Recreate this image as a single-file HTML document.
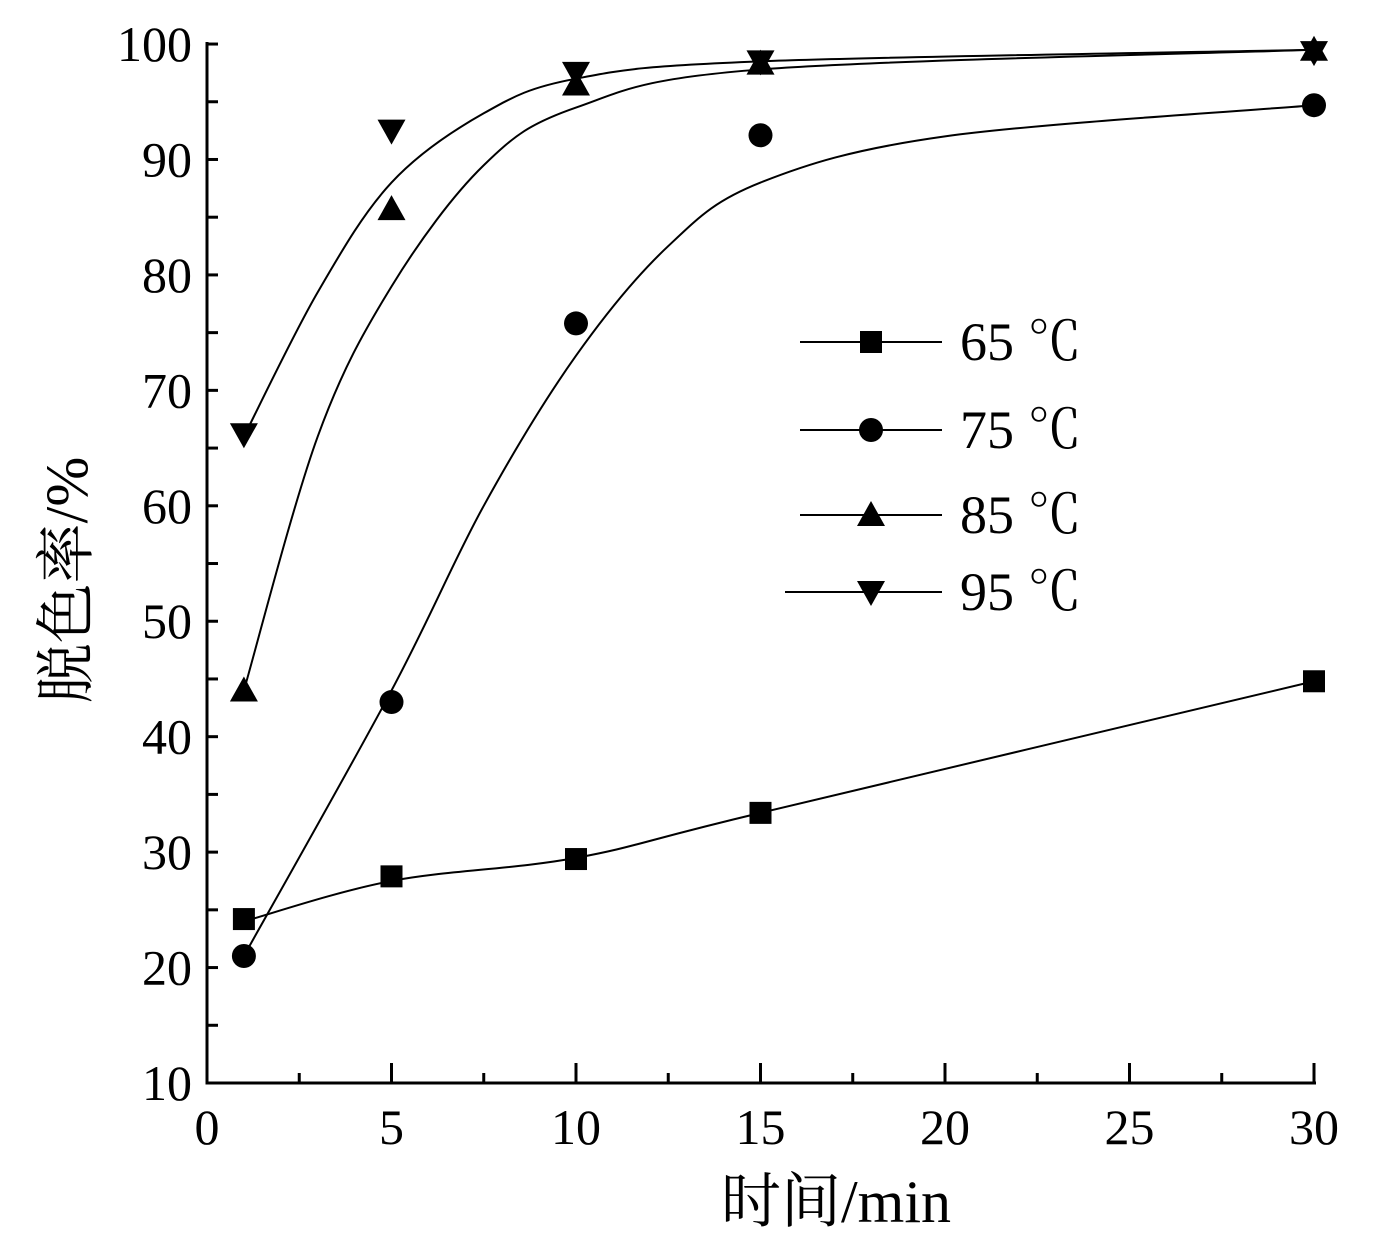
<!DOCTYPE html>
<html><head><meta charset="utf-8"><style>
body{margin:0;background:#fff}
text{font-family:"Liberation Serif","Noto Serif CJK SC",serif;fill:#000}
</style></head><body>
<svg id="s" width="1384" height="1248" xmlns="http://www.w3.org/2000/svg">
<g stroke="#000" stroke-width="3" fill="none">
<line x1="207" y1="42" x2="207" y2="1084.5"/>
<line x1="205.5" y1="1083" x2="1316" y2="1083"/>
</g>
<g id="ticks" stroke="#000" stroke-width="3"></g>
<g id="labels" font-size="50"></g>
<g id="curves" stroke="#000" stroke-width="2" fill="none"></g>
<g id="marks" fill="#000"></g>
<g id="legend"></g>
<text x="836" y="1222" font-size="60" text-anchor="middle">时间/min</text>
<text transform="translate(87,580) rotate(-90)" font-size="60" text-anchor="middle">脱色率/%</text>
</svg>
<script>
const NS="http://www.w3.org/2000/svg";
const X=v=>207+v*36.9, Y=v=>1083-(v-10)*11.544;
function el(p,t,a,txt){const e=document.createElementNS(NS,t);for(const k in a)e.setAttribute(k,a[k]);if(txt)e.textContent=txt;document.getElementById(p).appendChild(e);return e;}
for(let v=10;v<=100;v+=5){const y=Y(v);el("ticks","line",{x1:207,y1:y,x2:218,y2:y});}
for(let v=10;v<=100;v+=10){el("labels","text",{x:192,y:Y(v)+17,"text-anchor":"end"},String(v));}
for(let v=0;v<=30;v+=2.5){const x=X(v);el("ticks","line",{x1:x,y1:1083,x2:x,y2:v%5==0?1063:1073});}
for(let v=0;v<=30;v+=5){el("labels","text",{x:X(v),y:1144,"text-anchor":"middle"},String(v));}
function cr(pts){let d="M"+pts[0].join(",");for(let i=0;i<pts.length-1;i++){const p0=pts[i-1]||pts[i],p1=pts[i],p2=pts[i+1],p3=pts[i+2]||p2;
d+=` C${p1[0]+(p2[0]-p0[0])/6},${p1[1]+(p2[1]-p0[1])/6} ${p2[0]-(p3[0]-p1[0])/6},${p2[1]-(p3[1]-p1[1])/6} ${p2[0]},${p2[1]}`;}return d;}
const curves=[
[[1,24],[5,27.5],[10,29.5],[15,33.4],[30,44.8]],
[[1,21],[5,44],[7.5,60],[10,73],[12.5,82.5],[15,88],[20,92],[30,94.7]],
[[1,44],[3,66],[5,79],[7.5,89.5],[10,94.5],[15,97.8],[30,99.5]],
[[1,66],[3,78.5],[5,88],[7.5,94],[10,97],[15,98.5],[30,99.5]]];
curves.forEach(c=>el("curves","path",{d:cr(c.map(p=>[X(p[0]),Y(p[1])]))}));
const data=[[24.2,27.9,29.4,33.4,44.8],[21,43,75.8,92.1,94.7],[44,85.7,96.5,98.3,99.5],[66.2,92.5,97.5,98.5,99.3]];
const xs=[1,5,10,15,30];
function mark(t,x,y,g){
 if(t==0)el(g,"rect",{x:x-11,y:y-11,width:22,height:22});
 else if(t==1)el(g,"circle",{cx:x,cy:y,r:12});
 else if(t==2)el(g,"polygon",{points:`${x},${y-14} ${x-14},${y+11} ${x+14},${y+11}`});
 else el(g,"polygon",{points:`${x},${y+14} ${x-14},${y-11} ${x+14},${y-11}`});
}
data.forEach((d,t)=>d.forEach((v,i)=>mark(t,X(xs[i]),Y(v),"marks")));
const ly=[342,430,515,592],lt=["65","75","85","95"];
ly.forEach((y,t)=>{el("legend","line",{x1:t==3?785:800,y1:y,x2:942,y2:y,stroke:"#000","stroke-width":2});mark(t,871,y,"legend");
el("legend","text",{x:960,y:y+18,"font-size":54},lt[t]+" ℃");});
</script>
</body></html>
